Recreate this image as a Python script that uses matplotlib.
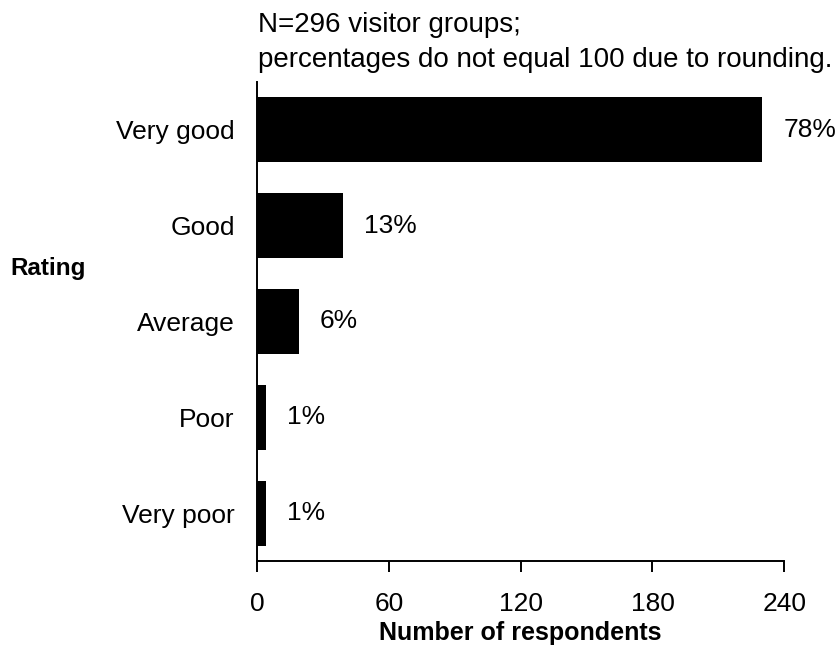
import matplotlib
matplotlib.use("Agg")
import matplotlib.pyplot as plt

# ratings, top to bottom
ratings = ["Very good", "Good", "Average", "Poor", "Very poor"]
counts = [230, 39, 19, 4, 4]
pct_labels = ["78%", "13%", "6%", "1%", "1%"]
xticks = [0, 60, 120, 180, 240]

plt.rcParams['font.family'] = ['Liberation Sans', 'DejaVu Sans']
fs = 19

fig = plt.figure(figsize=(8.38, 6.48), dpi=100)
ax = fig.add_axes([257/838, 1-561/648, (784.3-257)/838, (561-82)/648])

ypos = list(range(len(ratings)))
ax.barh(ypos, counts, height=0.68, color='black')

for y, c, lab in zip(ypos, counts, pct_labels):
    ax.annotate(lab, (c, y), xytext=(15, 0), textcoords='offset points',
                va='center', ha='left', fontsize=fs)

ax.set_ylim(4.5, -0.5)
ax.set_xlim(0, 240)
ax.set_xticks(xticks)
ax.set_yticks(ypos)
ax.set_yticklabels(ratings, fontsize=fs)
ax.tick_params(axis='y', length=0, pad=16)
ax.tick_params(axis='x', length=8, width=1.4, labelsize=fs, pad=14)
for s in ['top', 'right']:
    ax.spines[s].set_visible(False)
for s in ['left', 'bottom']:
    ax.spines[s].set_linewidth(1.4)

ax.set_xlabel("Number of respondents", fontsize=18, fontweight='bold', labelpad=4)
fig.text(10/838, 1-268/648, "Rating", fontsize=17.5, fontweight='bold', va='center', ha='left')
fig.text(258/838, 1-25/648, "N=296 visitor groups;", fontsize=20, va='center', ha='left')
fig.text(258/838, 1-60/648, "percentages do not equal 100 due to rounding.", fontsize=20, va='center', ha='left')

fig.savefig("out.png", dpi=100)
